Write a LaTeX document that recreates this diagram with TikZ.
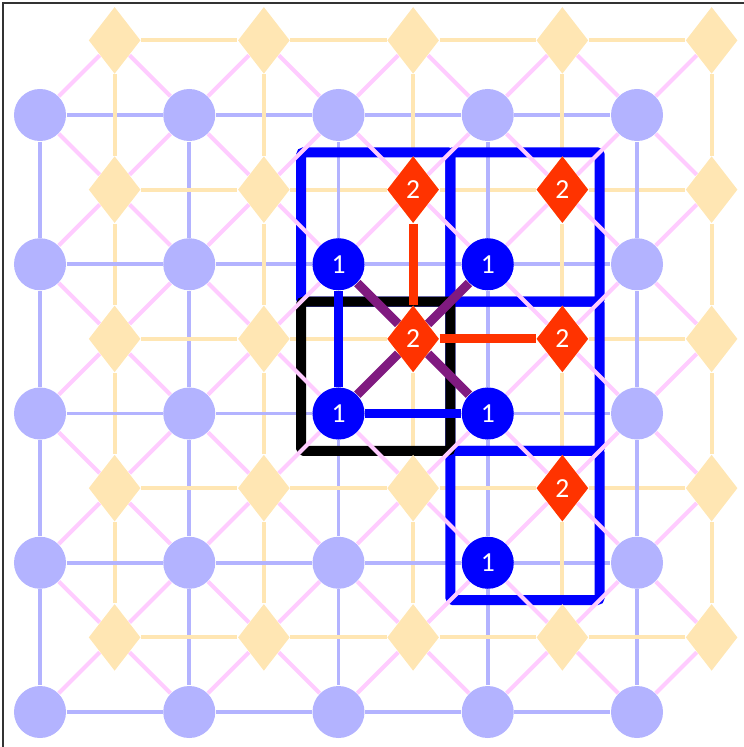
\documentclass[tikz,border=0pt]{standalone}
\usepackage{fontspec}
\setsansfont{Carlito}
\usetikzlibrary{shapes.geometric}
\definecolor{blue300} {HTML}{B3B3FF}
\definecolor{amber200}{HTML}{FFE6B3}
\definecolor{pink200} {HTML}{FFCCFF}
\definecolor{blue900} {HTML}{0000FF}
\definecolor{red600}  {HTML}{FF3300}
\definecolor{plum700} {HTML}{801A80}
\pgfdeclarelayer{grid}
\pgfdeclarelayer{boxes}
\pgfdeclarelayer{links}
\pgfdeclarelayer{hot}
\pgfsetlayers{grid,boxes,links,hot,main}
\tikzset{
  site/.style    ={circle, fill=blue300, minimum size=0.697cm, inner sep=0pt},
  siteon/.style  ={site, fill=blue900, text=white,
                   font=\sffamily\fontsize{10.5}{12}\selectfont},
  plaq/.style    ={diamond, fill=amber200, minimum width=0.697cm,
                   minimum height=0.898cm, inner sep=0pt},
  plaqon/.style  ={plaq, fill=red600, text=white,
                   font=\sffamily\fontsize{10.5}{12}\selectfont},
  sitelink/.style={draw=blue300, line width=1.5pt},
  plaqlink/.style={draw=amber200, line width=1.5pt},
  diag/.style    ={draw=pink200, line width=1.5pt},
  siteedge/.style={draw=blue900, line width=3.4pt},
  plaqedge/.style={draw=red600, line width=3.4pt},
  mixedge/.style ={draw=plum700, line width=3.4pt},
  cellbox/.style ={draw=blue900, line width=3.8pt, rounded corners=1pt},
  cellboxk/.style={cellbox, draw=black},
  frame/.style   ={draw=black!80, line width=0.6pt}
}
\begin{document}
\begin{tikzpicture}[x=2cm, y=-2cm]
\useasboundingbox (-0.268,-0.7705) rectangle (4.717,4.2345);
\draw[frame] (-0.248,4.2345) -- (-0.248,-0.750) -- (4.717,-0.750);

% sites on the integer points, plaquettes half a step up and right
\foreach \a in {0,...,4}
  \foreach \b in {0,...,4} {
    \node[site] (s-\a-\b) at (\a,\b) {};
    \node[plaq] (p-\a-\b) at (\a+0.5,\b-0.5) {};
  }

\begin{pgfonlayer}{grid}
\foreach \a in {0,...,4}
  \foreach \b [count=\c] in {0,...,3} {
    \draw[sitelink] (s-\a-\b) -- (s-\a-\c);
    \draw[sitelink] (s-\b-\a) -- (s-\c-\a);
    \draw[plaqlink] (p-\a-\b) -- (p-\a-\c);
    \draw[plaqlink] (p-\b-\a) -- (p-\c-\a);
  }
\end{pgfonlayer}

\begin{pgfonlayer}{boxes}
\draw[cellbox] (1.75,0.25) rectangle (2.75,1.25);
\draw[cellbox] (2.75,0.25) rectangle (3.75,1.25);
\draw[cellbox] (2.75,1.25) rectangle (3.75,2.25);
\draw[cellbox] (2.75,2.25) rectangle (3.75,3.25);
\draw[cellboxk] (1.75,1.25) rectangle (2.75,2.25);
\end{pgfonlayer}

\begin{pgfonlayer}{links}
\foreach \a in {0,...,4}
  \foreach \b in {0,...,4}
    \draw[diag] (p-\a-\b) -- (s-\a-\b);
\foreach \a [count=\c] in {0,...,3}
  \foreach \b in {0,...,4}
    \draw[diag] (p-\a-\b) -- (s-\c-\b);
\foreach \a in {0,...,4}
  \foreach \b [count=\c] in {0,...,3}
    \draw[diag] (p-\a-\c) -- (s-\a-\b);
\foreach \a [count=\c] in {0,...,3}
  \foreach \b [count=\d] in {0,...,3}
    \draw[diag] (p-\a-\d) -- (s-\c-\b);
\end{pgfonlayer}

% marked sites and plaquettes
\foreach \a/\b in {2/1,3/1,2/2,3/2,3/3}
  \node[siteon] (hs-\a-\b) at (s-\a-\b) {1};
\foreach \a/\b in {2/1,3/1,2/2,3/2,3/3}
  \node[plaqon] (hp-\a-\b) at (p-\a-\b) {2};

\begin{pgfonlayer}{hot}
\draw[siteedge] (hs-2-1) -- (hs-2-2);
\draw[siteedge] (hs-2-2) -- (hs-3-2);
\draw[plaqedge] (hp-2-1) -- (hp-2-2);
\draw[plaqedge] (hp-2-2) -- (hp-3-2);
\draw[mixedge] (hs-2-1) -- (hp-2-2);
\draw[mixedge] (hp-2-2) -- (hs-3-2);
\draw[mixedge] (hs-2-2) -- (hp-2-2);
\draw[mixedge] (hp-2-2) -- (hs-3-1);
\end{pgfonlayer}
\end{tikzpicture}
\end{document}
